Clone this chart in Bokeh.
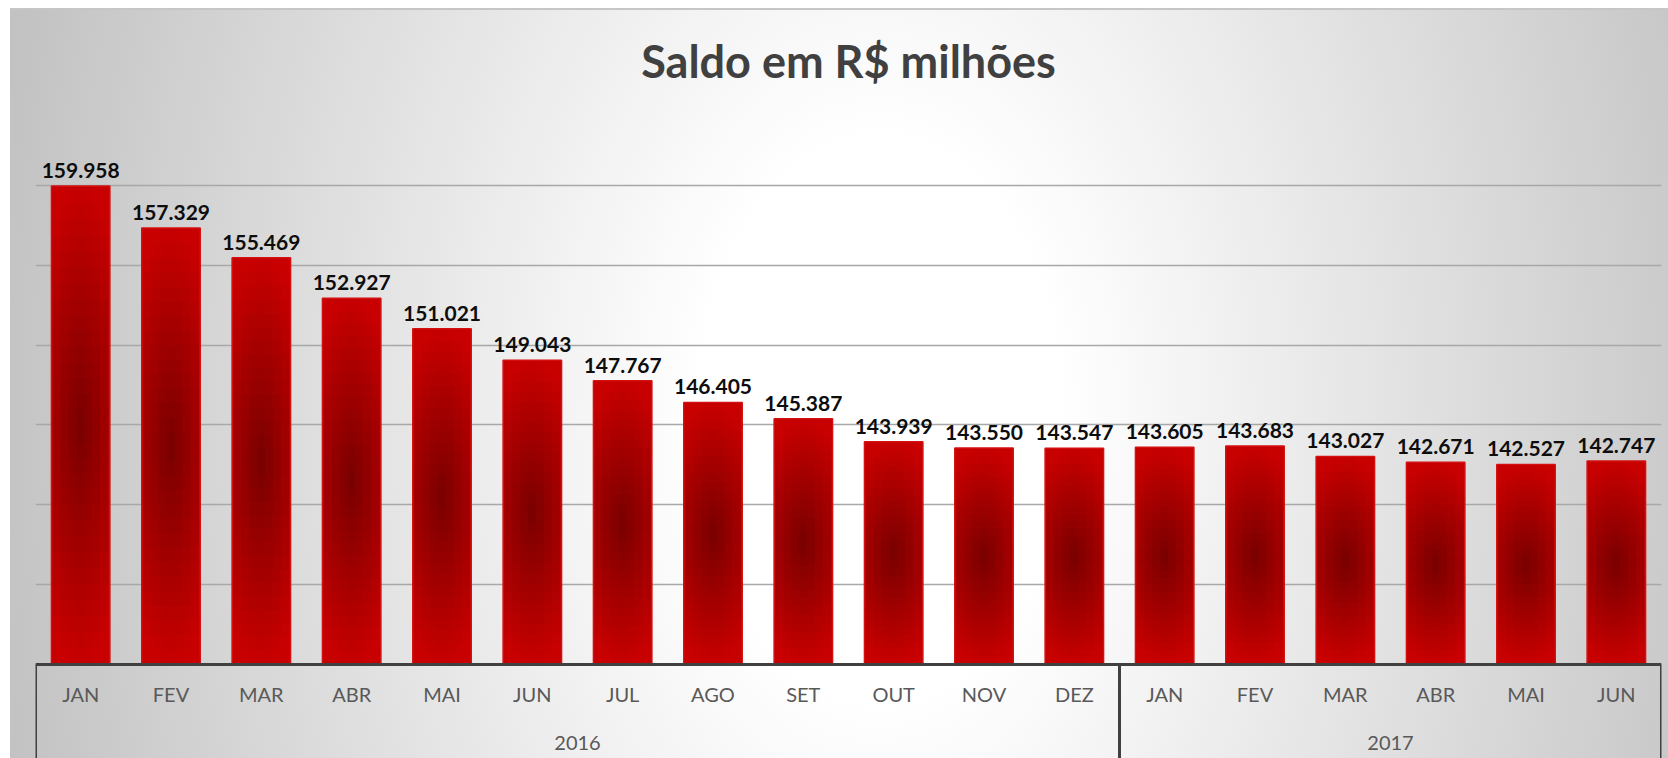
import numpy as np
from bokeh.plotting import figure
from bokeh.models import (FactorRange, Range1d, ColumnDataSource, FixedTicker,
                          Grid, CategoricalAxis)
from bokeh.core.properties import value
from bokeh.embed import file_html
from bokeh.resources import INLINE

# ---------------- data ----------------
title_text = "Saldo em R$ milhões"
years = ["2016"] * 12 + ["2017"] * 6
months = ["JAN", "FEV", "MAR", "ABR", "MAI", "JUN", "JUL", "AGO", "SET", "OUT",
          "NOV", "DEZ", "JAN", "FEV", "MAR", "ABR", "MAI", "JUN"]
saldo = [159958, 157329, 155469, 152927, 151021, 149043, 147767, 146405, 145387,
         143939, 143550, 143547, 143605, 143683, 143027, 142671, 142527, 142747]
year_groups = ["2016", "2017"]
y_min, y_max, y_step = 130000, 165000, 5000

# ---------------- layout constants ----------------
W, H = 1668, 758
LEFT, RIGHT, TOP = 35, 7, 105
AXIS_Y_PX = 664                      # pixel row of the category axis line
YEAR_Y_PX = 742                      # pixel row of the year labels' centre
px_per_unit = (AXIS_Y_PX - TOP) / (y_max - y_min)
y_start = y_min - (H - AXIS_Y_PX) / px_per_unit
year_y = y_min - (YEAR_Y_PX - AXIS_Y_PX) / px_per_unit

factors = list(zip(years, months))
labels = [f"{v:,}".replace(",", ".") for v in saldo]

xr = FactorRange(*factors, factor_padding=0, group_padding=0, range_padding=0)
p = figure(width=W, height=H, x_range=xr, y_range=Range1d(y_start, y_max),
           output_backend="svg", toolbar_location=None,
           x_axis_location=None, y_axis_location=None,
           min_border_left=LEFT, min_border_right=RIGHT,
           min_border_top=TOP, min_border_bottom=0)
p.outline_line_color = None
p.background_fill_color = None
p.border_fill_color = None
p.xgrid.visible = False
p.ygrid.visible = False
p.styles = {
    "background": (
        "linear-gradient(#c6c6c6,#c6c6c6) 10px 8px / 1658px 2px no-repeat, "
        "radial-gradient(ellipse 900px 1400px at 870px 411px, #ffffff 0%, #ffffff 20%, #c2c2c2 100%) "
        "10px 9px / 1658px 749px no-repeat, #ffffff"
    )
}

# title
p.title.text = title_text
p.title.align = "center"
p.title.text_font = "Lato"
p.title.text_font_style = "bold"
p.title.text_font_size = "45px"
p.title.text_color = "#404040"
p.title.standoff = 36

# grid lines
ticks = list(range(y_min + y_step, y_max, y_step))
p.add_layout(Grid(dimension=1, ticker=FixedTicker(ticks=ticks),
                  grid_line_color="#a8a8a8", grid_line_width=1.5))
p.add_layout(Grid(dimension=1, ticker=FixedTicker(ticks=[y_max]),
                  grid_line_color="#d2d2d2", grid_line_width=1.5))

# bars: base + gradient cells
BAR_W = 0.647
p.vbar(x=factors, top=saldo, bottom=y_min, width=BAR_W,
       fill_color="#c40000", line_color="#d41010", line_width=1.5)

NV, NH = 30, 7
dark = np.array([120, 0, 0])
light = np.array([200, 0, 0])
inner_w = BAR_W - 0.035
cx, cw, cb, ct, cc = [], [], [], [], []
for f, v in zip(factors, saldo):
    h = v - y_min
    inset = 1.5 / px_per_unit
    hh = h - 2 * inset
    for k in range(NV):
        b = y_min + inset + k * hh / NV
        t = b + hh / NV
        vv = abs((k + 0.5) / NV - 0.5) * 2
        for m in range(NH):
            off = -inner_w / 2 + (m + 0.5) * inner_w / NH
            uu = abs(off) / (inner_w / 2)
            r = min(1.0, np.hypot(0.55 * uu, vv))
            c = dark + (light - dark) * r
            cx.append((f[0], f[1], off))
            cw.append(inner_w / NH)
            cb.append(b)
            ct.append(t)
            cc.append("#%02x%02x%02x" % tuple(int(round(x)) for x in c))
src = ColumnDataSource(dict(x=cx, w=cw, b=cb, t=ct, c=cc))
p.vbar(x="x", width="w", bottom="b", top="t", fill_color="c", line_color="c",
       line_width=0.6, source=src)

# data labels
p.text(x=factors, y=saldo, text=labels, text_align="center",
       text_baseline="bottom", y_offset=-8,
       text_font=value("Lato"), text_font_style="bold",
       text_font_size="21px", text_color="#0d0d0d")

# category axis (months)
xaxis = CategoricalAxis(fixed_location=y_min)
xaxis.axis_line_color = "#404040"
xaxis.axis_line_width = 3
xaxis.major_tick_line_color = None
xaxis.minor_tick_line_color = None
xaxis.separator_line_color = None
xaxis.major_label_text_font = "Lato"
xaxis.major_label_text_font_size = "20px"
xaxis.major_label_text_color = "#595959"
xaxis.major_label_standoff = 11
xaxis.group_text_color = None
p.add_layout(xaxis, "below")

# year labels (second level of the category axis)
p.text(x=year_groups, y=[year_y] * len(year_groups), text=year_groups,
       text_align="center", text_baseline="middle",
       text_font=value("Lato"), text_font_size="20px", text_color="#595959")

# vertical frame lines of the category axis
first_idx = [0] + [i for i in range(1, len(years)) if years[i] != years[i - 1]]
bx = [(years[i], months[i], -0.5) for i in first_idx] + [(years[-1], months[-1], 0.5)]
p.segment(x0=bx, x1=bx, y0=[y_min] * len(bx), y1=[y_start] * len(bx),
          line_color="#404040", line_width=3)

open("out.html", "w").write(file_html(p, INLINE))
